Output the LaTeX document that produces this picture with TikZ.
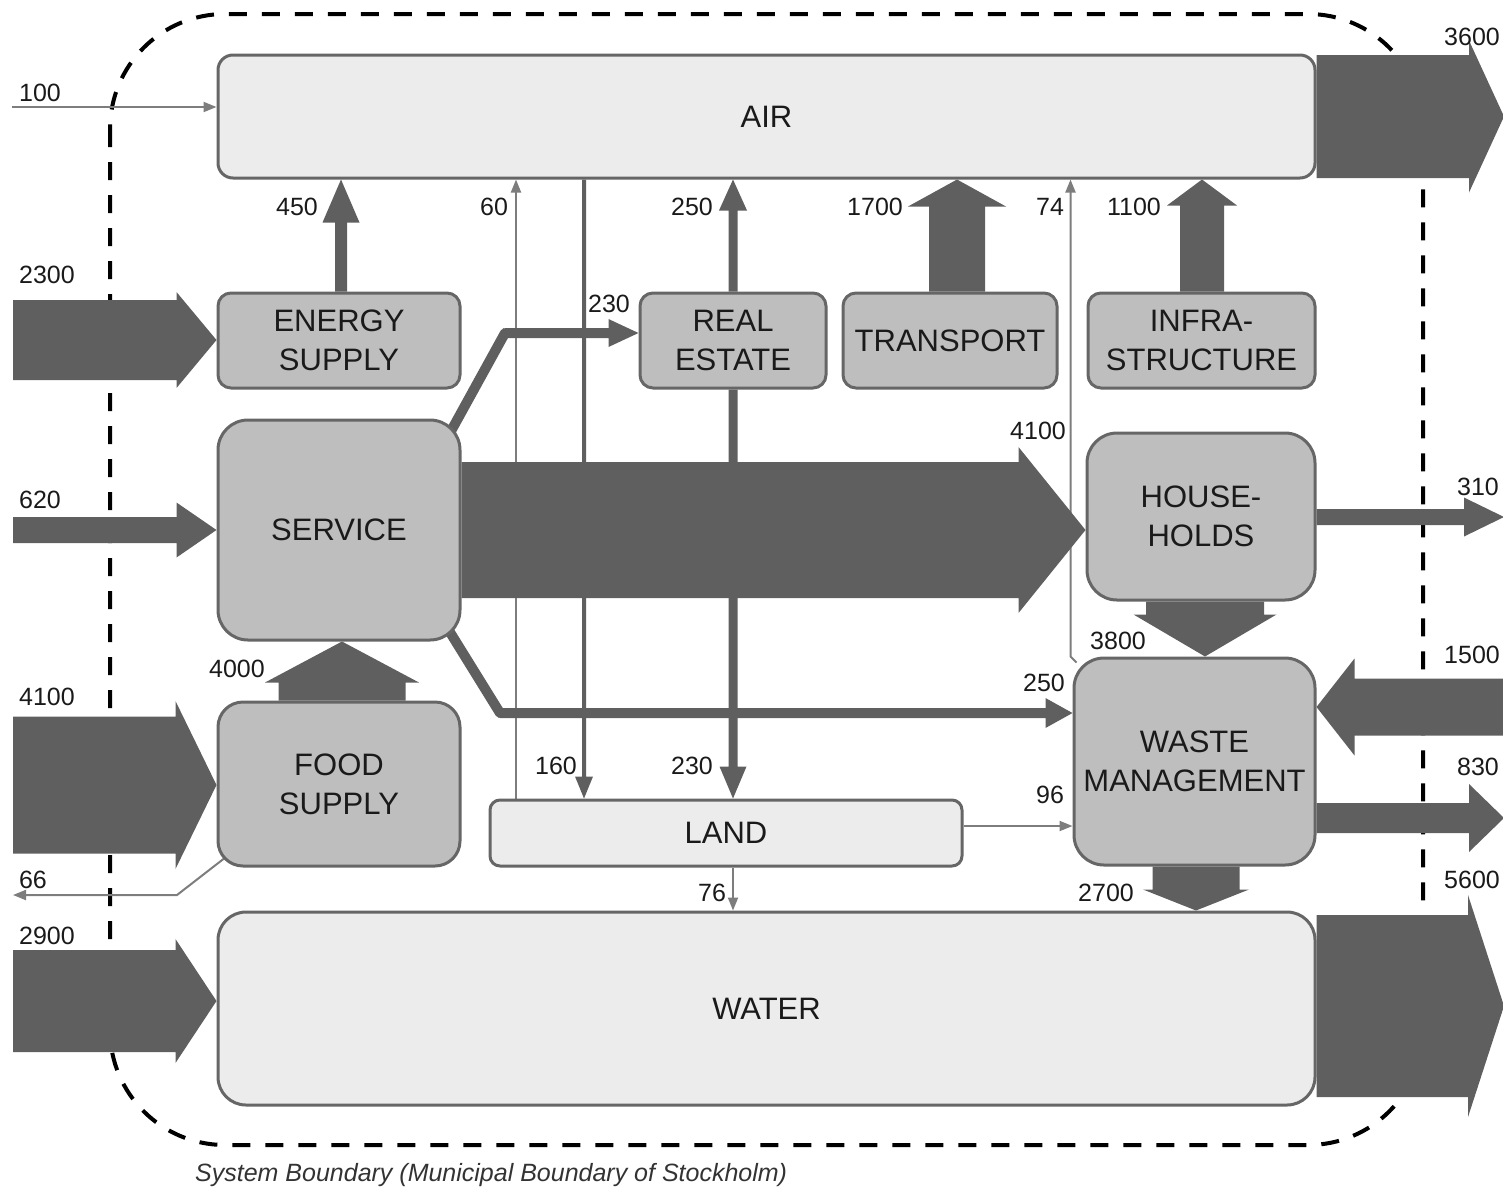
\documentclass[tikz,border=0pt]{standalone}
\usepackage{fontspec}
\setmainfont{Liberation Sans}
\usetikzlibrary{arrows.meta,calc,backgrounds}
\definecolor{flowgray}{HTML}{5F5F5F}
\definecolor{thingray}{HTML}{7D7D7D}
\definecolor{boxline}{HTML}{666666}
\definecolor{procfill}{HTML}{BEBEBE}
\definecolor{storefill}{HTML}{ECECEC}
\definecolor{inkgray}{HTML}{1A1A1A}
\newcommand\boxfont{\fontsize{31}{39}\selectfont}
\newcommand\numfont{\fontsize{25}{30}\selectfont}
\newcommand\capfont{\fontsize{25}{30}\selectfont\itshape}
% block arrow: start, tip, half shaft, half head, head length
\newcommand\flowarrow[5]{%
  \coordinate (fs) at #1;
  \coordinate (ft) at #2;
  \coordinate (fh) at ($(ft)!#5!(fs)$);
  \fill[flowgray] ($(fs)!#3!90:(ft)$) -- ($(fh)!#3!90:(ft)$) -- ($(fh)!#4!90:(ft)$) -- (ft)
    -- ($(fh)!#4!-90:(ft)$) -- ($(fh)!#3!-90:(ft)$) -- ($(fs)!#3!-90:(ft)$) -- cycle;}

\begin{document}
\begin{tikzpicture}[x=1pt,y=-1pt,
  proc/.style={draw=boxline,line width=3pt,fill=procfill,rounded corners=13pt,inner sep=0pt,align=center,text=inkgray,font=\boxfont},
  store/.style={proc,fill=storefill},
  num/.style={inner sep=0pt,text=inkgray,font=\numfont},
  thinflow/.style={draw=thingray,line width=2pt,-{Triangle[length=13pt,width=10pt]}},
  bendflow/.style={draw=flowgray,line width=10pt,line cap=round},
  boundary/.style={draw=black,line width=4pt,dash pattern=on 18pt off 15pt,rounded corners=115pt}]
\useasboundingbox (0,0) rectangle (1503,1189);

\node[store,rounded corners=15pt,minimum width=1097pt,minimum height=123pt] (air) at (766.5,116.5) {AIR};
\node[proc,minimum width=242pt,minimum height=95pt] (energy) at (339,340.5) {ENERGY\\SUPPLY};
\node[proc,minimum width=186pt,minimum height=95pt] (realestate) at (733,340.5) {REAL\\ESTATE};
\node[proc,minimum width=214pt,minimum height=95pt] (transport) at (950,340.5) {TRANSPORT};
\node[proc,minimum width=227pt,minimum height=95pt] (infra) at (1201.5,340.5) {INFRA-\\STRUCTURE};
\node[proc,rounded corners=30pt,minimum width=242pt,minimum height=220pt] (service) at (339,530) {SERVICE};
\node[proc,rounded corners=30pt,minimum width=228pt,minimum height=167pt] (households) at (1201,516.5) {HOUSE-\\HOLDS};
\node[proc,rounded corners=30pt,minimum width=241pt,minimum height=207pt] (waste) at (1194.5,761.5) {WASTE\\MANAGEMENT};
\node[proc,rounded corners=25pt,minimum width=242pt,minimum height=164pt] (food) at (339,784) {FOOD\\SUPPLY};
\node[store,rounded corners=10pt,minimum width=472pt,minimum height=66pt] (land) at (726,833) {LAND};
\node[store,rounded corners=28pt,minimum width=1097pt,minimum height=193pt] (water) at (766.5,1008.5) {WATER};

\coordinate (x450) at (341,0);
\coordinate (x60) at (516,0);
\coordinate (x160) at (584,0);
\coordinate (xre) at (733,0);
\coordinate (x1700) at (957,0);
\coordinate (x1100) at (1202,0);
\coordinate (x4000) at (342,0);
\coordinate (x3800) at (1205,0);
\coordinate (x2700) at (1196,0);
\coordinate (i100) at (12,107);
\coordinate (i2300) at (13,340);
\coordinate (i620) at (13,530);
\coordinate (i4100) at (13,785);
\coordinate (i2900) at (13,1001);
\coordinate (o66) at (13,895);
\coordinate (b66) at (177,895);
\coordinate (o3600) at (1504,116.5);
\coordinate (o310) at (1504,517);
\coordinate (i1500) at (1504,707);
\coordinate (o830) at (1504,818);
\coordinate (o5600) at (1504,1006);
\coordinate (b230) at (505,333);
\coordinate (b250) at (500,713);
\coordinate (y96) at (0,826);

\begin{scope}[on background layer]
\draw[boundary] (110,14) rectangle (1423,1145);
\draw[thinflow] (i100) -- (i100 -| air.west);
\draw[thinflow] (x60 |- land.north) -- (x60 |- air.south);
\draw[thinflow] ($(waste.north west)+(4,6)$) -- ($(waste.north west)+(-2,0)$) -- ($(waste.north west |- air.south)+(-2,0)$);
\draw[thinflow] (y96 -| land.east) -- (y96 -| waste.west);
\draw[thinflow] (xre |- land.south) -- (xre |- water.north);
\draw[thinflow] ($(food.south west)+(14,-14)$) -- (b66) -- (o66);
\flowarrow{(x160 |- air.south)}{(x160 |- land.north)}{2pt}{9pt}{22pt}
\flowarrow{(i2300)}{(i2300 -| energy.west)}{40pt}{48pt}{40pt}
\flowarrow{(i620)}{(i620 -| service.west)}{13pt}{27.5pt}{40pt}
\flowarrow{(i4100)}{(i4100 -| food.west)}{68.5pt}{84pt}{41pt}
\flowarrow{(i2900)}{(i2900 -| water.west)}{51pt}{62pt}{41pt}
\flowarrow{(air.east)}{(o3600)}{61.5pt}{76pt}{35pt}
\flowarrow{(o5600 -| water.east)}{(o5600)}{91pt}{111pt}{36pt}
\flowarrow{(o310 -| households.east)}{(o310)}{8pt}{19.5pt}{40pt}
\flowarrow{(i1500)}{(i1500 -| waste.east)}{28.5pt}{48.5pt}{38pt}
\flowarrow{(o830 -| waste.east)}{(o830)}{15pt}{34pt}{35pt}
\flowarrow{(x450 |- energy.north)}{(x450 |- air.south)}{6pt}{18.5pt}{43pt}
\flowarrow{(xre |- realestate.north)}{(xre |- air.south)}{4.5pt}{14pt}{31pt}
\flowarrow{(x1700 |- transport.north)}{(x1700 |- air.south)}{28pt}{49pt}{27pt}
\flowarrow{(x1100 |- infra.north)}{(x1100 |- air.south)}{22pt}{35pt}{26pt}
\flowarrow{(xre |- realestate.south)}{(xre |- land.north)}{4.5pt}{13.5pt}{32pt}
\flowarrow{(service.east)}{(service.east -| households.west)}{68pt}{83pt}{67pt}
\flowarrow{(x3800 |- households.south)}{(x3800 |- waste.north)}{59pt}{71.5pt}{42pt}
\flowarrow{(x2700 |- waste.south)}{(x2700 |- water.north)}{43.5pt}{53pt}{21pt}
\flowarrow{(x4000 |- food.north)}{(x4000 |- service.south)}{63.5pt}{77pt}{41pt}
\draw[bendflow] ($(service.north east)+(-19,28)$) -- (b230);
\flowarrow{(b230)}{(b230 -| realestate.west)}{5pt}{14pt}{30pt}
\draw[bendflow] ($(service.south east)+(-20,-23)$) -- (b250);
\flowarrow{(b250)}{(b250 -| waste.west)}{5pt}{15pt}{27pt}
\end{scope}

\node[num] (n100) at (40,93) {100};
\node[num] (n2300) at (47,275) {2300};
\node[num] (n620) at (40,500) {620};
\node[num] (n4100a) at (47,697) {4100};
\node[num] (n66) at (33,880) {66};
\node[num] (n2900) at (47,936) {2900};
\node[num] (n3600) at (1472,37) {3600};
\node[num] (n310) at (1478,487) {310};
\node[num] (n1500) at (1472,655) {1500};
\node[num] (n830) at (1478,767) {830};
\node[num] (n5600) at (1472,880) {5600};
\node[num] (n450) at (297,207) {450};
\node[num] (n60) at (494,207) {60};
\node[num] (n250a) at (692,207) {250};
\node[num] (n1700) at (875,207) {1700};
\node[num] (n74) at (1050,207) {74};
\node[num] (n1100) at (1134,207) {1100};
\node[num] (n230a) at (609,304) {230};
\node[num] (n4100b) at (1038,431) {4100};
\node[num] (n3800) at (1118,641) {3800};
\node[num] (n250b) at (1044,683) {250};
\node[num] (n96) at (1050,795) {96};
\node[num] (n160) at (556,766) {160};
\node[num] (n230b) at (692,766) {230};
\node[num] (n4000) at (237,669) {4000};
\node[num] (n2700) at (1106,893) {2700};
\node[num] (n76) at (712,893) {76};
\node[num,anchor=west,text=black!80,font=\capfont] (caption) at (195,1175) {System Boundary (Municipal Boundary of Stockholm)};
\end{tikzpicture}
\end{document}
